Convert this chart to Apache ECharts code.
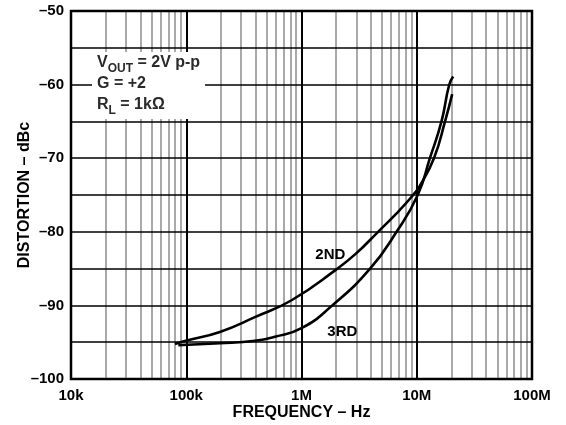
<!DOCTYPE html>
<html>
<head>
<meta charset="utf-8">
<script src="https://cdn.jsdelivr.net/npm/echarts@6/dist/echarts.min.js"></script>
<style>
  html, body { margin: 0; padding: 0; background: #fff; }
  #chart { width: 566px; height: 425px; }
</style>
</head>
<body>
<div id="chart"></div>
<script>
// distortion vs frequency
const freq2nd = [79.8e3, 98.9e3, 196e3, 394e3, 820e3, 2.01e6, 3.0e6, 4.62e6, 6.68e6, 9.31e6, 10.6e6, 14.1e6, 17.6e6, 20.3e6]
const dist2nd = [-95.25, -94.8, -93.6, -91.6, -89.3, -85.1, -82.9, -80.0, -77.5, -75.0, -73.8, -70.0, -65.0, -61.3]
const freq3rd = [85.3e3, 196e3, 394e3, 588e3, 1.0e6, 1.82e6, 3.92e6, 6.68e6, 10.2e6, 13.0e6, 16.4e6, 19.1e6, 20.7e6]
const dist3rd = [-95.4, -95.15, -94.8, -94.25, -93.1, -90.1, -85.05, -80.0, -75.0, -70.0, -65.0, -60.05, -58.9]

const xTickValues = [1e4, 1e5, 1e6, 1e7, 1e8]
const xTickLabels = ['10k', '100k', '1M', '10M', '100M']
const yMin = -100
const yMax = -50

const font = '"Liberation Sans", Arial, Helvetica, sans-serif'

// grid lines: 2..9 inside each decade (gray), decades (black), every 5 dB (black)
const minorX = []
for (let d = 0; d < xTickValues.length - 1; d++) {
    for (let m = 2; m <= 9; m++) minorX.push({ xAxis: xTickValues[d] * m })
}
const decadeX = xTickValues.slice(1, -1).map(v => ({ xAxis: v }))
const hLines = []
for (let v = yMin + 5; v < yMax; v += 5) hLines.push({ yAxis: v })

function gridSeries(name, data, color, width, z) {
    return {
        name: name,
        type: 'line',
        data: [],
        z: z,
        silent: true,
        markLine: {
            silent: true,
            symbol: 'none',
            animation: false,
            label: { show: false },
            lineStyle: { color: color, width: width, type: 'solid' },
            data: data
        }
    }
}

function curveLabel(text, coord) {
    return {
        symbol: 'circle',
        symbolSize: 0,
        label: {
            show: true, formatter: text, offset: [0, 3],
            fontFamily: font, fontWeight: 'bold', fontSize: 15, color: '#000'
        },
        data: [{ coord: coord }]
    }
}

const chart = echarts.init(document.getElementById('chart'))
chart.setOption({
    animation: false,
    backgroundColor: '#fff',
    grid: {
        left: 71, right: 34, top: 11, bottom: 46,
        containLabel: false,
        outerBoundsMode: 'none',
        show: true,
        borderColor: '#000',
        borderWidth: 2.5,
        z: 10
    },
    xAxis: {
        type: 'log',
        logBase: 10,
        min: 1e4,
        max: 1e8,
        name: 'FREQUENCY – Hz',
        nameLocation: 'middle',
        nameMoveOverlap: false,
        nameGap: 26,
        nameTextStyle: { fontFamily: font, fontWeight: 'bold', fontSize: 16, color: '#000' },
        axisLine: { show: false },
        axisTick: { show: false },
        splitLine: { show: false },
        axisLabel: {
            margin: 9,
            fontFamily: font,
            fontWeight: 'bold',
            fontSize: 15,
            color: '#000',
            formatter: function (v) {
                const i = xTickValues.findIndex(t => Math.abs(Math.log10(t) - Math.log10(v)) < 1e-6)
                return i >= 0 ? xTickLabels[i] : ''
            }
        }
    },
    yAxis: {
        type: 'value',
        min: yMin,
        max: yMax,
        interval: 5,
        name: 'DISTORTION – dBc',
        nameLocation: 'middle',
        nameMoveOverlap: false,
        nameGap: 38,
        nameRotate: 90,
        nameTextStyle: { fontFamily: font, fontWeight: 'bold', fontSize: 16, color: '#000' },
        axisLine: { show: false },
        axisTick: { show: false },
        splitLine: { show: false },
        axisLabel: {
            margin: 7,
            fontFamily: font,
            fontWeight: 'bold',
            fontSize: 15,
            color: '#000',
            formatter: function (v) {
                return v % 10 === 0 ? '–' + Math.abs(v) : ''
            }
        }
    },
    graphic: [
        {
            type: 'rect',
            z: 100,
            shape: { x: 92, y: 52, width: 113, height: 67 },
            style: { fill: '#fff' }
        },
        {
            type: 'text',
            z: 101,
            x: 97, y: 55,
            style: {
                text: '{a|V}{s|OUT}{a| = 2V p-p}\n{a|G = +2}\n{a|R}{s|L}{a| = 1kΩ}',
                rich: {
                    a: { fontFamily: font, fontWeight: 'bold', fontSize: 16, fill: '#2a2a2a', lineHeight: 21, verticalAlign: 'top' },
                    s: { fontFamily: font, fontWeight: 'bold', fontSize: 12, fill: '#2a2a2a', lineHeight: 21, padding: [8, 0, 0, 0], verticalAlign: 'top' }
                }
            }
        }
    ],
    series: [
        gridSeries('minor', minorX, '#8c8c8c', 1.5, 1),
        gridSeries('hgrid', hLines, '#000', 1.5, 2),
        gridSeries('decade', decadeX, '#000', 2, 3),
        {
            name: '2ND',
            type: 'line',
            z: 5,
            smooth: 0.5,
            symbol: 'none',
            lineStyle: { color: '#000', width: 2.6 },
            data: freq2nd.map((f, i) => [f, dist2nd[i]]),
            markPoint: curveLabel('2ND', [1.78e6, -82.7])
        },
        {
            name: '3RD',
            type: 'line',
            z: 5,
            smooth: 0.5,
            symbol: 'none',
            lineStyle: { color: '#000', width: 2.6 },
            data: freq3rd.map((f, i) => [f, dist3rd[i]]),
            markPoint: curveLabel('3RD', [2.26e6, -93.2])
        }
    ]
})
</script>
</body>
</html>
